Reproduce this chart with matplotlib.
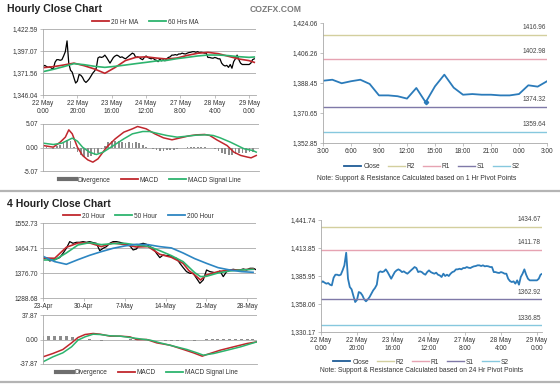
import numpy as np
import matplotlib
matplotlib.use('Agg')
import matplotlib.pyplot as plt
from matplotlib.lines import Line2D

plt.rcParams['font.family'] = ['Liberation Sans', 'DejaVu Sans']

# ---- hourly close, 22 May 0:00 -> 29 May ~3:00 (one value per hour bar)
close_h = [1379.1, 1380.4, 1379.1, 1378.1, 1378.7, 1377.1, 1376.4, 1384.0, 1387.0, 1387.0,
           1386.3, 1387.0, 1391.3, 1396.3, 1408.8, 1383.0, 1374.8, 1372.5, 1366.0, 1359.9,
           1362.0, 1369.8, 1369.0, 1366.5,
           1362.5, 1360.6, 1362.5, 1364.9, 1368.2, 1371.5, 1373.8,
           1377.1, 1389.0, 1390.3, 1389.6, 1390.3, 1392.3, 1389.6, 1386.3, 1383.0, 1386.3, 1389.6, 1391.3,
           1392.3, 1391.3, 1389.6, 1390.3, 1389.0, 1388.0, 1389.6, 1391.3, 1392.9, 1394.6, 1393.6, 1389.6, 1390.3,
           1389.6, 1388.0, 1387.0, 1389.6, 1391.3, 1389.6, 1388.7, 1388.0, 1389.0, 1387.0, 1386.3, 1384.7,
           1388.0, 1385.7, 1387.0, 1385.7, 1388.0, 1389.6, 1390.3, 1392.3, 1392.3, 1392.9, 1392.3, 1393.6, 1393.6,
           1394.6, 1393.9, 1393.6, 1394.6, 1395.3, 1395.6, 1396.3, 1396.3, 1395.6, 1396.3, 1395.3, 1395.6,
           1395.3, 1394.6, 1394.6, 1389.6, 1389.6, 1389.0, 1388.7, 1389.6, 1389.0, 1388.0, 1388.0,
           1383.0, 1380.7, 1379.7, 1380.4, 1378.1, 1381.4, 1377.1, 1384.7, 1388.0, 1392.3, 1387.0, 1383.0, 1381.4, 1381.4,
           1381.4, 1381.4, 1381.4, 1383.0, 1387.0, 1388.0]
hour_ticks = ['22 May\n0:00', '22 May\n20:00', '23 May\n16:00', '24 May\n12:00',
              '27 May\n8:00', '28 May\n4:00', '29 May\n0:00']

ma_h_x = [0, 6, 12, 18, 24, 30, 36, 42, 48, 54, 60, 66, 72, 78, 84, 90, 96, 102, 108, 114, 120, 123]
ma20_h = [1377.7, 1378.9, 1380.8, 1383.0, 1380.0, 1376.2, 1371.2, 1378.0, 1386.0, 1389.7, 1390.3,
          1388.9, 1387.8, 1388.9, 1392.0, 1394.4, 1395.5, 1394.0, 1390.9, 1387.8, 1385.9, 1383.9]
ma60_h = [1373.1, 1375.8, 1378.9, 1382.4, 1381.2, 1379.3, 1378.1, 1379.3, 1380.8, 1382.4, 1383.9,
          1385.5, 1386.2, 1388.2, 1389.7, 1391.3, 1392.4, 1392.4, 1391.7, 1390.5, 1389.7, 1390.1]

macd_h_x = [0, 6, 10, 13, 15, 17, 20, 23, 26, 29, 32, 37, 42, 47, 52, 55, 60, 65, 70, 75, 80, 85,
            89, 94, 97, 101, 107, 111, 115, 119, 121, 124]
macd_h = [0.43, 0.07, 1.15, 2.23, 3.81, 2.95, 0.07, -1.72, -2.66, -3.16, -2.44, 0.07, 1.87, 3.31,
          4.03, 4.53, 4.03, 2.95, 2.09, 1.66, 2.09, 2.52, 2.73, 2.81, 2.59, 1.66, 0.43, -1.0, -1.72,
          -2.08, -2.23, -1.72]
sig_h_x = [0, 6, 11, 15, 17, 20, 23, 27, 31, 35, 41, 47, 52, 58, 62, 66, 72, 78, 84, 89, 95, 99,
           103, 109, 113, 117, 122, 124]
sig_h = [0.94, 0.65, 0.94, 1.66, 2.02, 1.37, 0.07, -1.0, -1.51, -1.0, 0.43, 1.87, 2.95, 3.45, 3.45,
         3.09, 2.59, 2.23, 2.45, 2.66, 2.73, 2.59, 2.09, 1.15, 0.43, -0.29, -0.65, -1.0]
div_h = [0.3, 0.2, -0.2, -0.3, 0.4, 0.6, 1.0, 1.6, 1.5, 0.2, -1.0, -1.7, -2.1, -2.0, -1.8, -1.6,
         -1.2, -0.4, 0.4, 1.2, 1.5, 1.3, 1.4, 1.2, 1.0, 1.1, 1.0, 1.1, 0.9, 0.5, 0.2, -0.1, -0.4,
         -0.6, -0.7, -0.7, -0.6, -0.6, -0.5, -0.3, -0.1, 0.0, 0.1, 0.1, 0.1, 0.1, 0.1, 0.1, 0.0,
         -0.1, -0.3, -0.7, -1.1, -1.4, -1.6, -1.7, -1.5, -1.2, -1.1, -1.1, -1.0, -0.9]

# ---- last 24 hours (3:00 -> 3:00), 1 Hr pivots
close_24 = [1389.8, 1390.4, 1388.3, 1389.5, 1390.4, 1387.9, 1381.1, 1381.1, 1380.6, 1379.2,
            1385.5, 1377.0, 1386.5, 1393.4, 1385.7, 1381.5, 1381.9, 1381.5, 1381.5, 1381.1,
            1381.1, 1381.9, 1387.1, 1386.3, 1389.5]
hr_ticks = ['3:00', '6:00', '9:00', '12:00', '15:00', '18:00', '21:00', '0:00', '3:00']
piv_1h = {'R2': 1416.96, 'R1': 1402.98, 'S1': 1374.32, 'S2': 1359.64}
piv_24h = {'R2': 1434.67, 'R1': 1411.78, 'S1': 1362.92, 'S2': 1336.85}

# ---- 4 hourly chart, 23 Apr -> 29 May (one reading every ~0.57 day)
close_4h = [1429.5, 1431.9, 1420.1, 1423.6, 1427.2, 1431.9, 1447.1, 1464.7, 1488.2, 1482.3,
            1485.8, 1485.8, 1488.2, 1485.8, 1488.2, 1484.7, 1482.3, 1456.5, 1464.7, 1470.6,
            1482.3, 1488.2, 1488.2, 1485.8, 1482.3, 1478.8, 1474.1, 1458.9, 1462.4, 1478.8,
            1482.3, 1478.8, 1470.6, 1464.7, 1447.1, 1431.9, 1441.2, 1438.9, 1438.9, 1431.9,
            1429.5, 1411.9, 1396.6, 1382.6, 1376.7, 1376.7, 1359.1, 1341.5, 1353.2, 1388.4,
            1382.6, 1380.2, 1376.7, 1384.9, 1365.0, 1382.6, 1388.4, 1390.8, 1388.4, 1388.4,
            1392.0, 1388.4, 1394.3, 1394.3, 1388.4]
step_4h = 0.572
day_ticks = ['23-Apr', '30-Apr', '7-May', '14-May', '21-May', '28-May']

ma_d_x = [0, 2, 4, 6, 8, 10, 12, 14, 16, 18, 20, 22, 24, 25, 26, 27, 28, 30, 32, 34, 36]
ma20_4h = [1430.7, 1429.5, 1468.2, 1483.5, 1483.5, 1470.6, 1483.5, 1477.6, 1469.4, 1470.6, 1443.6,
           1433.0, 1411.9, 1386.1, 1370.8, 1353.2, 1370.8, 1382.6, 1388.4, 1388.4, 1392.0]
ma50_4h_x = [0, 2, 4, 6, 8, 10, 12, 14, 16, 18, 20, 22, 24, 26, 27, 28, 30, 32, 34, 36]
ma50_4h = [1423.6, 1423.6, 1448.3, 1476.5, 1484.7, 1477.6, 1481.2, 1482.3, 1476.5, 1471.8, 1456.5,
           1438.9, 1417.8, 1379.0, 1365.0, 1366.1, 1377.9, 1384.9, 1388.4, 1390.8]
ma200_4h_x = [0, 2, 4, 6, 8, 10, 12, 14, 16, 18, 20, 22, 24, 26, 28, 30, 32, 34, 36]
ma200_4h = [1436.6, 1417.8, 1408.4, 1424.8, 1440.1, 1453.0, 1464.7, 1472.9, 1478.8, 1477.6, 1470.6,
            1466.0, 1448.3, 1428.3, 1411.9, 1396.6, 1388.4, 1382.6, 1380.2]

macd_d_x = [0, 1.7, 3.4, 4.9, 6.0, 7.2, 8.6, 9.8, 11.5, 13.2, 14.9, 16.1, 17.8, 19.5, 21.8, 24.1,
            25.8, 27.3, 28.1, 30.4, 32.7, 35.0, 36.7]
macd_d = [-26.8, -21.6, -15.5, -5.2, 3.1, 7.7, 9.3, 8.2, 5.2, 5.2, 4.1, 0.0, 0.0, -5.2, -8.8, -15.5,
          -20.6, -25.8, -23.2, -16.5, -11.3, -6.2, -3.6]
sig_d_x = [0, 1.7, 3.4, 4.9, 6.0, 7.2, 8.6, 9.8, 11.5, 13.2, 14.9, 16.6, 18.4, 20.1, 22.4, 24.7,
           26.4, 27.5, 29.3, 31.6, 33.9, 36.1, 36.7]
sig_d = [-34.5, -26.8, -20.6, -11.3, -1.0, 4.1, 8.2, 7.7, 5.7, 5.2, 3.1, 1.0, -1.0, -5.2, -10.3,
         -15.5, -20.6, -24.2, -21.6, -16.5, -11.3, -5.2, -3.6]
div_d = [6, 5, 5.5, 5, 6, 4, 1, -1, 0.5, -1.5, -2, -1.5, -0.5, 0, -1, 1, 0.5, -0.5, 0.5, -1, -1.5,
         -2, -2.5, -2, -2.5, -1.5, -2, -1, 1, 1.5, 1, 1.5, 1, 1.5, 1, 0.5, 0.5]

W, H = 560, 386
fig = plt.figure(figsize=(W / 100, H / 100), dpi=100)
GRAY = '#a8a8a8'
TXT = '#333333'
FS = 4.7


def box(l, t, r, b):
    return fig.add_axes([l / W, 1 - b / H, (r - l) / W, (b - t) / H])


def style(ax, grid=True):
    for s in ['top', 'right']:
        ax.spines[s].set_visible(False)
    for s in ['left', 'bottom']:
        ax.spines[s].set_color(GRAY)
        ax.spines[s].set_linewidth(0.6)
    ax.tick_params(labelsize=FS, colors=TXT, length=2, width=0.5, pad=1.5)
    ax.tick_params(color=GRAY)
    if grid:
        ax.yaxis.grid(True, color=GRAY, lw=0.6)
        ax.set_axisbelow(True)


def legend(handles, labels, x, y, fs=FS, gap=1.6):
    fig.legend(handles, labels, loc='center', bbox_to_anchor=(x / W, 1 - y / H), ncol=len(labels),
               frameon=False, fontsize=fs, handlelength=2.6, handletextpad=0.3,
               columnspacing=gap, labelcolor=TXT)


def fmt(v):
    return f'{v:,.2f}'


red = '#c0272d'
green = '#2db46e'
blue = '#2d86c2'
divc = '#8c8c8c'

# ---------------- Hourly close chart
fig.text(7 / W, 1 - 9 / H, 'Hourly Close Chart', fontsize=7.6, fontweight='bold', va='center',
         color='#222222')
fig.text(276 / W, 1 - 10 / H, 'COZFX.COM', fontsize=6.2, color='#7a7a7a', va='center', ha='center',
         fontweight='bold')

hours = np.arange(len(close_h))
ax = box(43, 29, 256, 95)
style(ax)
ax.plot(hours, close_h, color='black', lw=0.9)
ax.plot(ma_h_x, ma20_h, color=red, lw=1.2)
ax.plot(ma_h_x, ma60_h, color=green, lw=1.2)
lo, hi = 1346.04, 1422.59
ax.set_ylim(lo, hi)
yt = np.linspace(lo, hi, 4)
ax.set_yticks(yt, [fmt(v) for v in yt])
ax.set_xlim(0, 124)
ax.set_xticks(np.arange(0, 121, 20), hour_ticks)
legend([Line2D([], [], color=red, lw=1.3), Line2D([], [], color=green, lw=1.3)],
       ['20 Hr MA', '60 Hrs MA'], 145, 22)

ax = box(43, 124, 259, 171)
style(ax)
ax.bar(np.arange(0, 2 * len(div_h), 2), div_h, width=1.0, color=divc)
ax.plot(macd_h_x, macd_h, color=red, lw=1.1)
ax.plot(sig_h_x, sig_h, color=green, lw=1.1)
ax.set_ylim(-5.07, 5.07)
ax.set_yticks([-5.07, 0, 5.07], ['-5.07', '0.00', '5.07'])
ax.set_xlim(0, 125.6)
ax.set_xticks([])
legend([Line2D([], [], color='#6e6e6e', lw=3), Line2D([], [], color=red, lw=1.3),
        Line2D([], [], color=green, lw=1.3)],
       ['Divergence', 'MACD', 'MACD Signal Line'], 150, 180)

# ---------------- pivot panels
piv_cols = {'R2': '#d3cf9e', 'R1': '#e6a3b2', 'S1': '#7f79a8', 'S2': '#86c8de'}
close_blue = '#2b7bba'


def pivot_panel(ax, xs, ys, piv):
    style(ax, grid=False)
    ax.plot(xs, ys, color=close_blue, lw=1.3)
    for k, v in piv.items():
        ax.axhline(v, color=piv_cols[k], lw=1.0)
        ax.annotate(f'{v:.2f}', xy=(1, v), xycoords=('axes fraction', 'data'), xytext=(-1, 2.5),
                    textcoords='offset points', ha='right', va='bottom', fontsize=FS, color='#444444')


def pivot_legend(y):
    hs = [Line2D([], [], color='#1f5c96', lw=1.3)] + [Line2D([], [], color=piv_cols[k], lw=1.0)
                                                       for k in ['R2', 'R1', 'S1', 'S2']]
    legend(hs, ['Close', 'R2', 'R1', 'S1', 'S2'], 432 if y < 200 else 421, y, gap=1.2)


ax = box(323, 23, 547, 143)
pivot_panel(ax, np.arange(len(close_24)), close_24, piv_1h)
ax.plot([11], [close_24[11]], marker='D', ms=2.2, color=close_blue)
lo, hi = 1352.85, 1424.06
ax.set_ylim(lo, hi)
yt = np.linspace(lo, hi, 5)
ax.set_yticks(yt, [fmt(v) for v in yt])
ax.set_xlim(0, 24)
ax.set_xticks(np.arange(0, 25, 3), hr_ticks)
pivot_legend(167)
fig.text(417 / W, 1 - 179 / H, 'Note: Support & Resistance Calculated based on 1 Hr Pivot Points',
         fontsize=4.9, color=TXT, ha='center', va='center')

ax = box(321, 219.5, 542, 332)
pivot_panel(ax, hours, close_h, piv_24h)
lo, hi = 1330.17, 1441.74
ax.set_ylim(lo, hi)
yt = np.linspace(lo, hi, 5)
ax.set_yticks(yt, [fmt(v) for v in yt])
ax.set_xlim(0, 122.8)
ax.set_xticks(np.arange(0, 121, 20), hour_ticks)
pivot_legend(362)
fig.text(422 / W, 1 - 371 / H, 'Note: Support & Resistance Calculated based on 24 Hr Pivot Points',
         fontsize=4.9, color=TXT, ha='center', va='center')

# ---------------- 4 hourly close chart
fig.text(7 / W, 1 - 204 / H, '4 Hourly Close Chart', fontsize=7.6, fontweight='bold', va='center',
         color='#222222')

days4 = np.arange(len(close_4h)) * step_4h
ax = box(43, 223.3, 256, 298.3)
style(ax)
ax.plot(days4, close_4h, color='black', lw=0.9)
ax.plot(ma_d_x, ma20_4h, color=red, lw=1.2)
ax.plot(ma50_4h_x, ma50_4h, color=green, lw=1.2)
ax.plot(ma200_4h_x, ma200_4h, color=blue, lw=1.2)
lo, hi = 1288.68, 1552.73
ax.set_ylim(lo, hi)
yt = np.linspace(lo, hi, 4)
ax.set_yticks(yt, [f'{v:.2f}' for v in yt])
ax.set_xlim(0, 36.5)
ax.set_xticks(np.arange(0, 36, 7), day_ticks)
legend([Line2D([], [], color=red, lw=1.3), Line2D([], [], color=green, lw=1.3),
        Line2D([], [], color=blue, lw=1.3)], ['20 Hour', '50 Hour', '200 Hour'], 138, 216)

ax = box(43, 315, 257, 364)
style(ax)
ax.bar(np.arange(len(div_d)), div_d, width=0.5, color=divc)
ax.plot(macd_d_x, macd_d, color=red, lw=1.1)
ax.plot(sig_d_x, sig_d, color=green, lw=1.1)
ax.set_ylim(-37.87, 37.87)
ax.set_yticks([-37.87, 0, 37.87], ['-37.87', '0.00', '37.87'])
ax.set_xlim(0, 36.7)
ax.set_xticks([])
legend([Line2D([], [], color='#6e6e6e', lw=3), Line2D([], [], color=red, lw=1.3),
        Line2D([], [], color=green, lw=1.3)],
       ['Divergence', 'MACD', 'MACD Signal Line'], 147, 373)

# separators
for y in [191, 382]:
    fig.add_artist(Line2D([0, 1], [1 - y / H] * 2, color='#b4b4b4', lw=1.6, transform=fig.transFigure))

fig.savefig('out.png', dpi=100)
